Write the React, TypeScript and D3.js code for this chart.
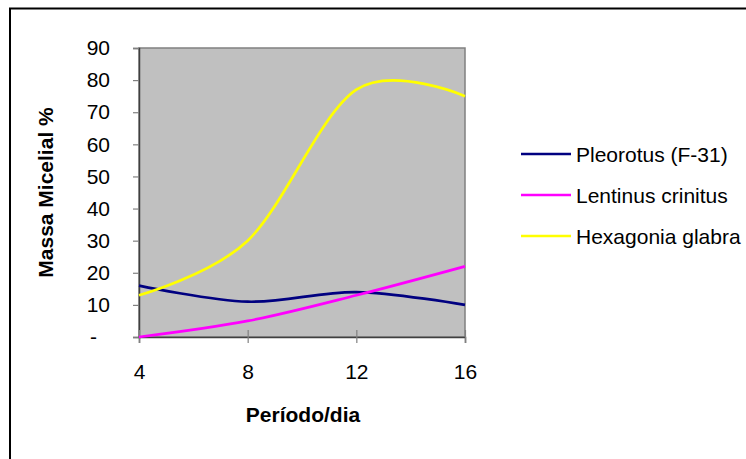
import { useEffect, useRef } from 'react';
import * as d3 from 'd3';

const days = [4, 8, 12, 16];
const pleorotus = [16, 11, 14, 10];
const lentinus = [0, 5, 13, 22];
const hexagonia = [13, 30, 77, 75];
const yTicks = [0, 10, 20, 30, 40, 50, 60, 70, 80, 90];

const series = [
  { name: 'Pleorotus (F-31)', values: pleorotus, color: '#000080' },
  { name: 'Lentinus crinitus', values: lentinus, color: '#FF00FF' },
  { name: 'Hexagonia glabra', values: hexagonia, color: '#FFFF00' },
];

export default function App() {
  const svgRef = useRef<SVGSVGElement>(null);

  useEffect(() => {
    if (!svgRef.current) return;
    const svg = d3.select(svgRef.current);
    svg.selectAll('*').remove();

    const width = 746;
    const height = 459;
    const font = 'Arial, "Liberation Sans", sans-serif';
    const fs = 21;
    const left = 139, right = 465, top = 48, bottom = 337;

    svg.attr('width', width).attr('height', height);

    // outer chart border
    svg.append('rect')
      .attr('x', 10).attr('y', 8.5)
      .attr('width', 800).attr('height', 500)
      .attr('fill', '#fff')
      .attr('stroke', '#000')
      .attr('stroke-width', 2);

    const x = d3.scaleLinear().domain([4, 16]).range([left, right]);
    const y = d3.scaleLinear().domain([0, 90]).range([bottom, top]);

    // plot area
    svg.append('rect')
      .attr('x', left).attr('y', top)
      .attr('width', right - left).attr('height', bottom - top)
      .attr('fill', '#C0C0C0')
      .attr('stroke', '#808080')
      .attr('stroke-width', 1.5);

    // y axis
    const yAxis = svg.append('g')
      .attr('transform', `translate(${left},0)`)
      .call(d3.axisLeft(y).tickValues(yTicks).tickSize(6).tickPadding(23)
        .tickFormat(d => (d === 0 ? '-' : String(d))));
    yAxis.select('.domain').attr('stroke', '#404040').attr('stroke-width', 1.5);
    yAxis.selectAll('.tick line').attr('stroke', '#808080').attr('stroke-width', 1.2);
    yAxis.selectAll('.tick text')
      .attr('font-family', font).attr('font-size', fs).attr('fill', '#000')
      .attr('dx', (d: any) => (d === 0 ? -13 : 0));

    // x axis
    const xAxis = svg.append('g')
      .attr('transform', `translate(0,${bottom})`)
      .call(d3.axisBottom(x).tickValues(days).tickSize(6).tickPadding(21)
        .tickFormat(d => String(d)));
    xAxis.select('.domain').attr('stroke', '#404040').attr('stroke-width', 1.5);
    xAxis.selectAll('.tick line')
      .attr('y1', -7).attr('y2', 6)
      .attr('stroke', '#808080').attr('stroke-width', 1.2);
    xAxis.selectAll('.tick text')
      .attr('font-family', font).attr('font-size', fs).attr('fill', '#000');

    // lines
    const line = d3.line<number>()
      .x((_, i) => x(days[i]))
      .y(d => y(d))
      .curve(d3.curveCardinal.tension(0));

    series.forEach(s => {
      svg.append('path')
        .datum(s.values)
        .attr('fill', 'none')
        .attr('stroke', s.color)
        .attr('stroke-width', 2.7)
        .attr('d', line);
    });

    // axis titles
    svg.append('text')
      .attr('transform', `translate(53,${(top + bottom) / 2}) rotate(-90)`)
      .attr('text-anchor', 'middle')
      .attr('font-family', font).attr('font-size', fs).attr('font-weight', 'bold')
      .text('Massa Micelial %');

    svg.append('text')
      .attr('x', (left + right) / 2 + 1).attr('y', 422)
      .attr('text-anchor', 'middle')
      .attr('font-family', font).attr('font-size', fs).attr('font-weight', 'bold')
      .text('Período/dia');

    // legend
    const legend = svg.append('g').attr('transform', 'translate(521,154)');
    series.forEach((s, i) => {
      const g = legend.append('g').attr('transform', `translate(0,${i * 41})`);
      g.append('line')
        .attr('x1', 0).attr('x2', 50)
        .attr('stroke', s.color).attr('stroke-width', 2.7);
      g.append('text')
        .attr('x', 55).attr('y', 7.5)
        .attr('font-family', font).attr('font-size', fs).attr('fill', '#000')
        .text(s.name);
    });
  }, []);

  return <svg ref={svgRef} style={{ position: 'absolute', left: 0, top: 0 }} />;
}
